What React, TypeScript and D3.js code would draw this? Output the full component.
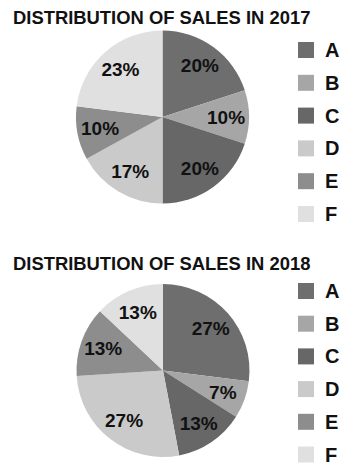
import React from "react";
import * as d3 from "d3";

const categories = ["A", "B", "C", "D", "E", "F"];
const sales2017 = [20, 10, 20, 17, 10, 23];
const sales2018 = [27, 7, 13, 27, 13, 13];
const titles = ["DISTRIBUTION OF SALES IN 2017", "DISTRIBUTION OF SALES IN 2018"];
const colors = ["#6e6e6e", "#a6a6a6", "#676767", "#cacaca", "#8d8d8d", "#e0e0e0"];

const W = 357;
const H = 472;
const FONT = "'Liberation Sans', Arial, sans-serif";

function Pie({ values, title, cx, cy, r, titleY, legendY0, legendStep }: any) {
  const pie = d3.pie<number>().sort(null).value((d) => d);
  const arcs = pie(values);
  const arc = d3.arc<d3.PieArcDatum<number>>().innerRadius(0).outerRadius(r);
  const labelArc = d3.arc<d3.PieArcDatum<number>>().innerRadius(r * 0.735).outerRadius(r * 0.735);
  const color = d3.scaleOrdinal<string, string>().domain(categories).range(colors);
  return (
    <g>
      <text x={13} y={titleY} fontFamily={FONT} fontWeight="bold" fontSize={18.4} fill="#111">
        {title}
      </text>
      <g transform={`translate(${cx},${cy})`}>
        {arcs.map((a, i) => (
          <path key={i} d={arc(a) || ""} fill={color(categories[i])} />
        ))}
        {arcs.map((a, i) => {
          const [x, y] = labelArc.centroid(a);
          return (
            <text
              key={"l" + i}
              x={x}
              y={y}
              textAnchor="middle"
              dominantBaseline="central"
              fontFamily={FONT}
              fontWeight="bold"
              fontSize={19}
              fill="#111"
            >
              {values[i]}%
            </text>
          );
        })}
      </g>
      {categories.map((c, i) => {
        const y = legendY0 + i * legendStep;
        return (
          <g key={"lg" + i}>
            <rect x={298} y={y - 8} width={16} height={16} fill={color(c)} />
            <text x={325} y={y} dominantBaseline="central" fontFamily={FONT} fontWeight="bold" fontSize={20} fill="#111">
              {c}
            </text>
          </g>
        );
      })}
    </g>
  );
}

export default function App() {
  return (
    <svg width={W} height={H} style={{ position: "absolute", left: 0, top: 0, background: "#fff" }}>
      <rect width={W} height={H} fill="#fff" />
      <Pie values={sales2017} title={titles[0]} cx={162.5} cy={117} r={86.5} titleY={24} legendY0={50} legendStep={32.8} />
      <Pie values={sales2018} title={titles[1]} cx={163} cy={370.5} r={86.5} titleY={269.5} legendY0={291} legendStep={32.7} />
    </svg>
  );
}
